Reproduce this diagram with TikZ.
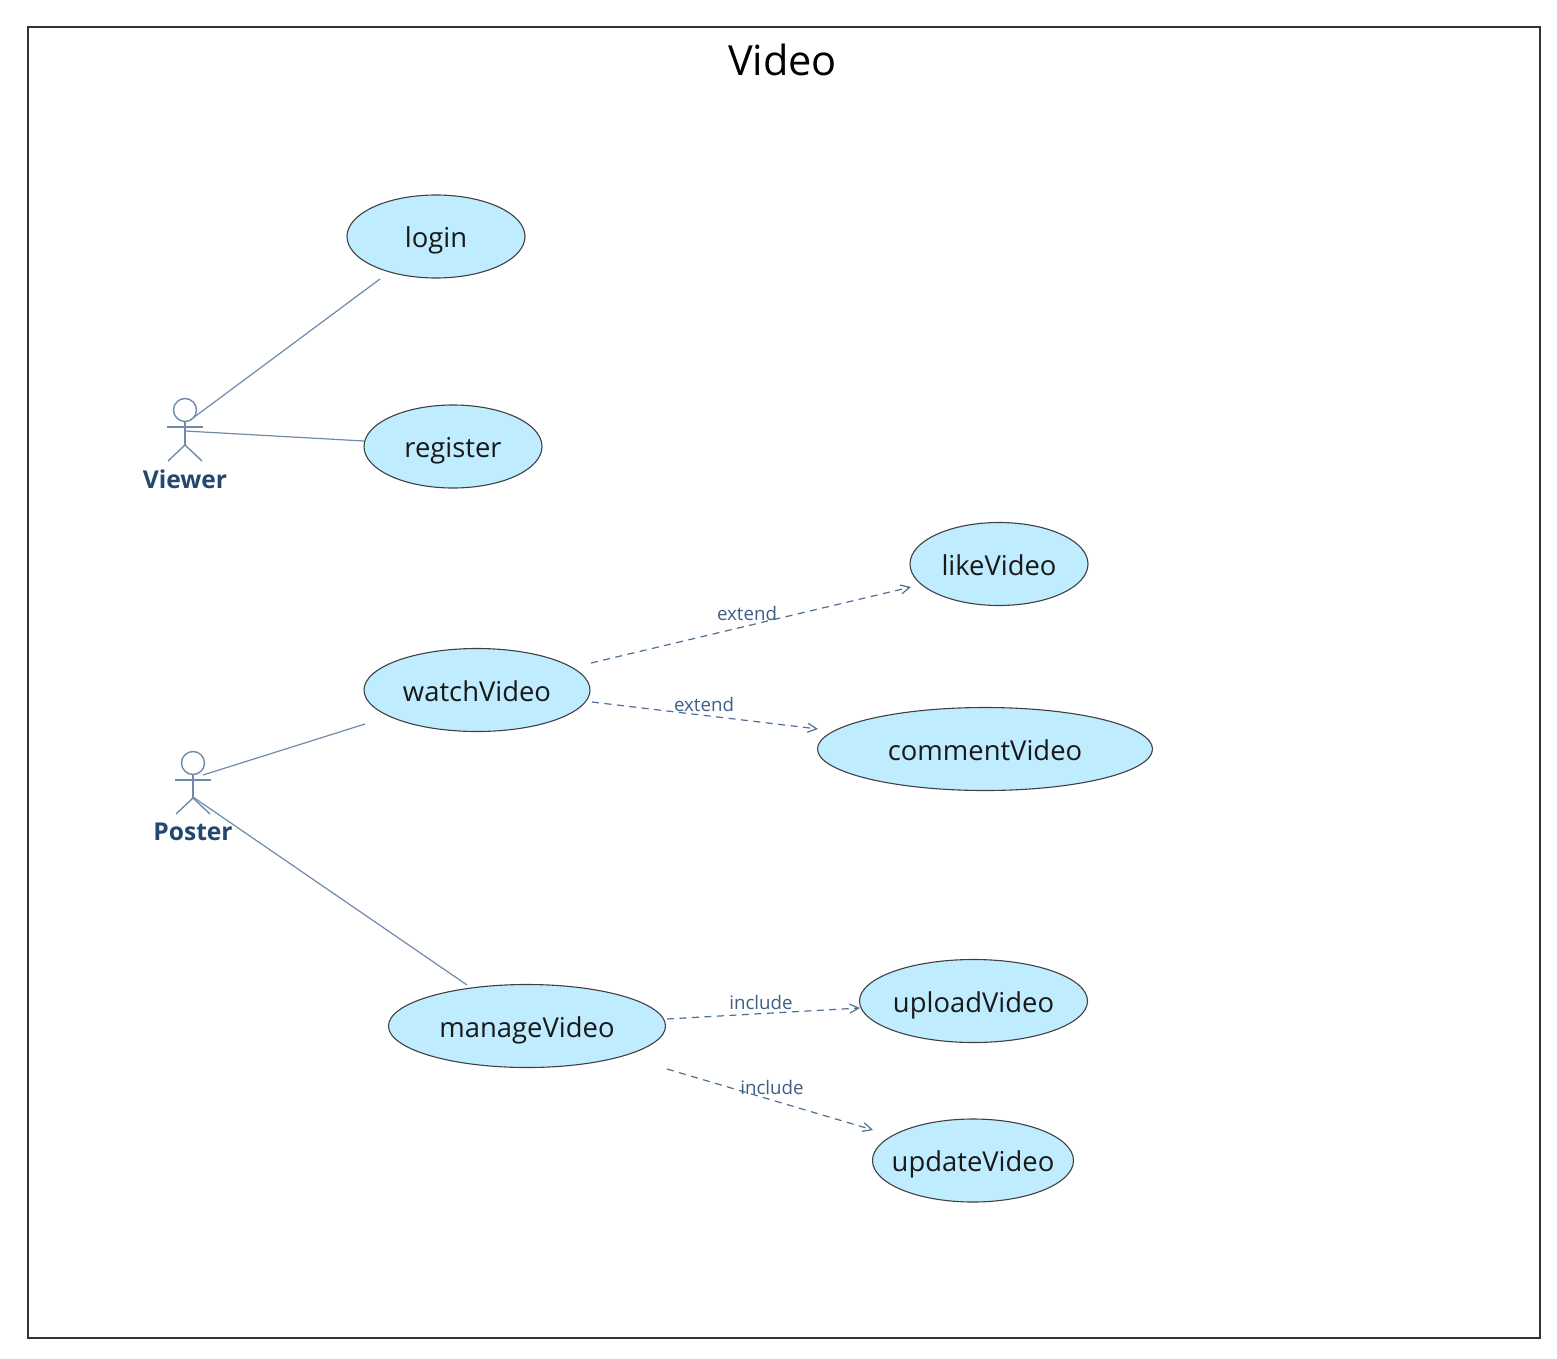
\documentclass[tikz,border=0pt]{standalone}
\usepackage{fontspec}
\setmainfont{Open Sans}
\usetikzlibrary{arrows.meta,shapes.geometric}
\definecolor{ucfill}{HTML}{BFECFF}
\definecolor{actorline}{HTML}{6F8BAA}
\definecolor{linkline}{HTML}{4F6F94}
\definecolor{actortext}{HTML}{24476F}
\definecolor{labeltext}{HTML}{3F5F85}
\tikzset{
  x=1pt,y=-1pt,
  usecase/.style={ellipse,draw=black!75,line width=1.1pt,fill=ucfill,inner sep=-30pt,text height=22pt,text depth=0pt,font=\fontsize{27.4}{31}\selectfont,text=black!90},
  actorname/.style={font=\fontsize{24.6}{28}\selectfont\bfseries,text=actortext,inner sep=0pt},
  actorstroke/.style={draw=actorline,line width=1.4pt},
  assoc/.style={draw=actorline,line width=1.2pt},
  dep/.style={draw=linkline,line width=1.2pt,dash pattern=on 7pt off 5.5pt,-{Straight Barb[length=9pt,width=9pt]}},
  deplabel/.style={font=\fontsize{18.7}{22}\selectfont,text=labeltext,inner sep=0pt},
}
\newcommand{\ucnode}[6]{\node[usecase,minimum width=#3pt,minimum height=#4pt] (#5) at (#1,#2) {#6};}
\newcommand{\stickman}[2]{%
  \draw[actorstroke] (#1,#2-20) circle (11.5);
  \draw[actorstroke] (#1,#2-8.5) -- (#1,#2+15);
  \draw[actorstroke] (#1-18,#2-3) -- (#1+18,#2-3);
  \draw[actorstroke] (#1-17,#2+31) -- (#1,#2+15) -- (#1+17,#2+31);
}
\begin{document}
\begin{tikzpicture}
\useasboundingbox (0,0) rectangle (1557,1359);
\fill[white] (0,0) rectangle (1557,1359);
\node[draw=black!80,line width=1.1pt,minimum width=1512pt,minimum height=1311pt,inner sep=0pt] (frame) at (784,682.5) {};
\node[font=\fontsize{41.5}{46}\selectfont,text=black,inner sep=0pt] (title) at (782.5,60) {Video};

\ucnode{436}{236.5}{178}{83}{login}{login}
\ucnode{453}{446.5}{178}{83}{register}{register}
\ucnode{999}{564}{178}{83}{likeVideo}{likeVideo}
\ucnode{477}{690}{226}{83}{watchVideo}{watchVideo}
\ucnode{985}{749}{335}{83}{commentVideo}{commentVideo}
\ucnode{527}{1026}{277}{83}{manageVideo}{manageVideo}
\ucnode{973.5}{1001}{228}{83}{uploadVideo}{uploadVideo}
\ucnode{973}{1160.5}{201}{83}{updateVideo}{updateVideo}

\stickman{185}{430}
\stickman{193}{783}
\node[actorname] (viewer) at (185,479) {Viewer};
\node[actorname] (poster) at (193,832) {Poster};

\coordinate (viewerA) at (193,418);
\coordinate (viewerB) at (185,431);
\coordinate (posterA) at (203,775);
\coordinate (posterB) at (193,797);
\coordinate (loginEnd) at (380,279);
\coordinate (registerEnd) at (364,441);
\coordinate (watchEnd) at (365,724);
\coordinate (manageEnd) at (467,985);
\draw[assoc] (viewerA) -- (loginEnd);
\draw[assoc] (viewerB) -- (registerEnd);
\draw[assoc] (posterA) -- (watchEnd);
\draw[assoc] (posterB) -- (manageEnd);

\coordinate (w1) at (591,663);
\coordinate (l1) at (911,587);
\coordinate (w2) at (592,702);
\coordinate (c2) at (818,729);
\coordinate (m1) at (667,1019);
\coordinate (u1) at (860,1008);
\coordinate (m2) at (667,1069);
\coordinate (u2) at (873,1130);
\draw[dep] (w1) -- (l1);
\draw[dep] (w2) -- (c2);
\draw[dep] (m1) -- (u1);
\draw[dep] (m2) -- (u2);
\node[deplabel] (e1) at (747,613) {extend};
\node[deplabel] (e2) at (704,704) {extend};
\node[deplabel] (i1) at (761,1002) {include};
\node[deplabel] (i2) at (772,1087) {include};
\end{tikzpicture}
\end{document}
